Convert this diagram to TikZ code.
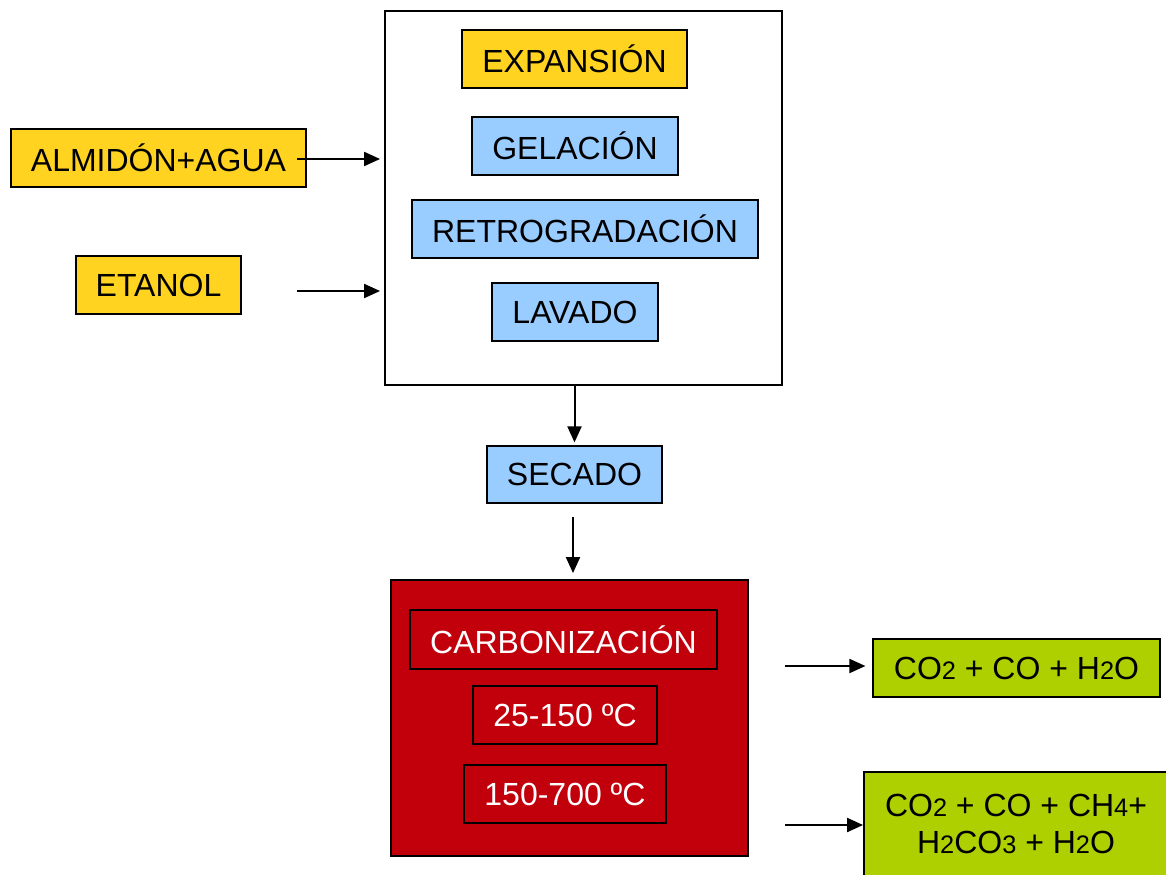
\documentclass[tikz,border=0pt]{standalone}
\usepackage{fontspec}
\setmainfont{Liberation Sans}
\usetikzlibrary{arrows.meta, positioning}
\definecolor{StarchGold}{HTML}{FFD320}
\definecolor{StepBlue}{HTML}{99CCFF}
\definecolor{FurnaceRed}{HTML}{C2000B}
\definecolor{GasGreen}{HTML}{AECF00}
\newcommand\chemsub[1]{{\fontsize{19}{22}\selectfont #1}}

\begin{document}
\begin{tikzpicture}[x=0.75pt, y=-0.75pt,
  box/.style={rectangle, draw=black, line width=1.4pt, inner sep=0pt,
    minimum height=43.5pt, align=center, font=\fontsize{24}{28}\selectfont},
  feed/.style={box, fill=StarchGold},
  stage/.style={box, fill=StepBlue},
  heat/.style={box, fill=FurnaceRed, text=white},
  gas/.style={box, fill=GasGreen},
  arrow/.style={-{Triangle[length=12pt, width=10.5pt]}, line width=1.5pt}
]
\useasboundingbox (0,0) rectangle (1166,874);

% process block
\node[box, fill=white, minimum width=297.75pt, minimum height=280.5pt] (proc) at (583.5,198) {};
\node[feed, minimum width=168.75pt] (exp) at (574.5,59) {EXPANSIÓN};
\node[stage, minimum width=154.5pt] (gel) at (575,146) {GELACIÓN};
\node[stage, minimum width=259.5pt] (ret) at (585,229) {RETROGRADACIÓN};
\node[stage, minimum width=124.5pt] (lav) at (575,312) {LAVADO};

% inputs
\node[feed, minimum width=221.25pt] (alm) at (158.5,158) {ALMIDÓN+AGUA};
\node[feed, minimum width=123.75pt] (eta) at (158.5,285) {ETANOL};
\coordinate (almout) at (297,159);
\coordinate (etaout) at (297,291);
\draw[arrow, shorten >=3pt] (almout) -- (almout -| proc.west);
\draw[arrow, shorten >=3pt] (etaout) -- (etaout -| proc.west);

\node[stage, minimum width=131.25pt, minimum height=42.75pt] (sec) at (574.5,474.5) {SECADO};
\draw[arrow, shorten >=2pt] (sec.north |- proc.south) -- (sec.north);

% carbonizacion
\node[heat, minimum width=267.75pt, minimum height=207pt] (carb) at (569.5,718) {};
\node[heat, minimum width=230.25pt, minimum height=44.25pt] (cbz) at (563.5,639.5) {CARBONIZACIÓN};
\node[heat, minimum width=138pt] (low) at (565,715) {25-150 ºC};
\node[heat, minimum width=151.5pt] (high) at (565,794) {150-700 ºC};
\coordinate (secout) at (573,517);
\draw[arrow, shorten >=4.5pt] (secout) -- (secout |- carb.north);

% gases
\node[gas, minimum width=215.25pt] (gone) at (1016.5,668)
  {CO\chemsub{2} + CO + H\chemsub{2}O};
\node[gas, minimum width=228pt, minimum height=78pt] (gtwo) at (1016,824)
  {CO\chemsub{2} + CO + CH\chemsub{4}+\\H\chemsub{2}CO\chemsub{3} + H\chemsub{2}O};
\coordinate (lowout) at (785,666);
\coordinate (highout) at (785,825);
\draw[arrow, shorten >=5pt] (lowout) -- (lowout -| gone.west);
\draw[arrow] (highout) -- (highout -| gtwo.west);
\end{tikzpicture}
\end{document}
